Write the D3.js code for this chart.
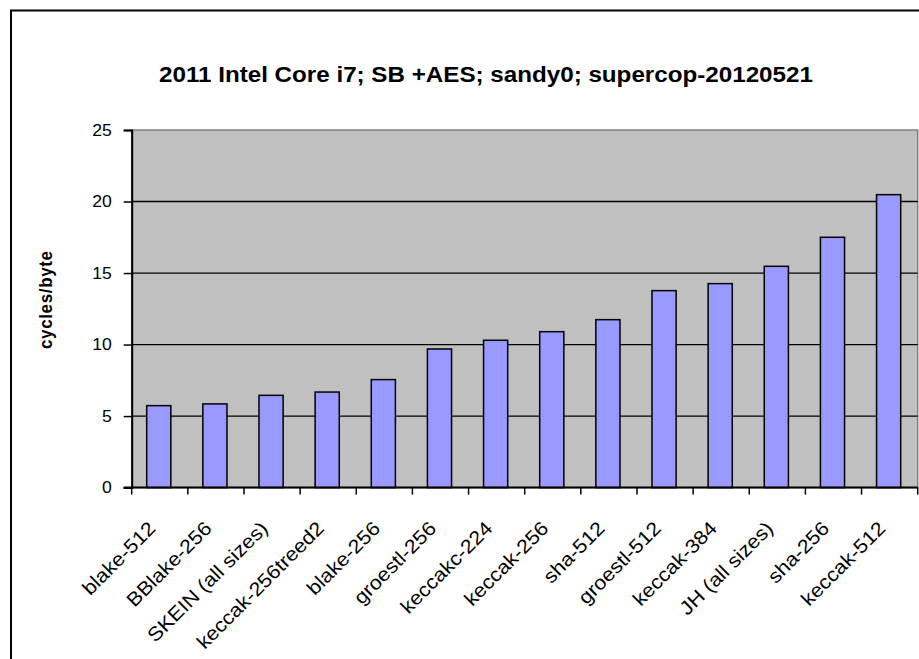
<!DOCTYPE html>
<html>
<head>
<meta charset="utf-8">
<script src="https://cdn.jsdelivr.net/npm/d3@7/dist/d3.min.js"></script>
<style>
  html, body { margin: 0; padding: 0; background: #ffffff; }
  svg { display: block; }
  text { font-family: "Liberation Sans", Arial, sans-serif; fill: #000; }
</style>
</head>
<body>
<svg id="chart" width="919" height="659"></svg>
<script>
// Hash function throughput on a 2011 Intel Core i7 (Sandy Bridge)
const titleText = "2011 Intel Core i7; SB +AES; sandy0; supercop-20120521";
const yLabel = "cycles/byte";
const categories = [
  "blake-512", "BBlake-256", "SKEIN (all sizes)", "keccak-256treed2",
  "blake-256", "groestl-256", "keccakc-224", "keccak-256", "sha-512",
  "groestl-512", "keccak-384", "JH (all sizes)", "sha-256", "keccak-512"
];
const values = [5.73, 5.85, 6.45, 6.68, 7.55, 9.69, 10.3, 10.9, 11.74, 13.77, 14.26, 15.47, 17.5, 20.48];
const yTicks = [0, 5, 10, 15, 20, 25];

// the chart's text is set slightly wide
const SX = 1.1;

const svg = d3.select("#chart");

// outer chart frame
svg.append("rect")
  .attr("x", 11).attr("y", 10.5)
  .attr("width", 1000).attr("height", 1000)
  .attr("fill", "none").attr("stroke", "#000").attr("stroke-width", 2);

const plot = { left: 131.7, right: 917.7, top: 130, bottom: 487.6 };

const x = d3.scaleBand().domain(categories).range([plot.left, plot.right]).padding(0);
const y = d3.scaleLinear().domain([0, 25]).range([plot.bottom, plot.top]);

// plot area background
svg.append("rect")
  .attr("x", plot.left).attr("y", plot.top)
  .attr("width", plot.right - plot.left).attr("height", plot.bottom - plot.top)
  .attr("fill", "#c0c0c0").attr("stroke", "#808080").attr("stroke-width", 1.5);

// horizontal gridlines
svg.append("g").selectAll("line")
  .data(yTicks.filter(t => t > 0 && t < 25))
  .join("line")
  .attr("x1", plot.left).attr("x2", plot.right)
  .attr("y1", d => y(d)).attr("y2", d => y(d))
  .attr("stroke", "#000").attr("stroke-width", 1.3);

// bars
const barW = x.bandwidth() * 0.43;
svg.append("g").selectAll("rect")
  .data(values)
  .join("rect")
  .attr("x", (d, i) => x(categories[i]) + x.bandwidth() / 2 - barW / 2 - 1)
  .attr("y", d => y(d))
  .attr("width", barW)
  .attr("height", d => y(0) - y(d))
  .attr("fill", "#9999ff")
  .attr("stroke", "#000").attr("stroke-width", 1.5);

// y axis
const yAxis = svg.append("g")
  .attr("transform", `translate(${plot.left},0)`)
  .call(d3.axisLeft(y).tickValues(yTicks).tickSize(8).tickPadding(0).tickFormat(d3.format("d")));
yAxis.select(".domain").attr("stroke", "#000").attr("stroke-width", 2);
yAxis.selectAll(".tick line").attr("stroke", "#000").attr("stroke-width", 1.5);
yAxis.selectAll(".tick text")
  .attr("x", null)
  .attr("transform", `translate(-20,0) scale(${SX},1)`)
  .style("font-family", "'Liberation Sans', Arial, sans-serif")
  .style("font-size", "16px").attr("fill", "#000");

// x axis baseline and boundary ticks
svg.append("line")
  .attr("x1", plot.left - 8).attr("x2", plot.right)
  .attr("y1", plot.bottom).attr("y2", plot.bottom)
  .attr("stroke", "#000").attr("stroke-width", 2);
const bounds = categories.map(c => x(c)).concat([plot.right]);
svg.append("g").selectAll("line")
  .data(bounds)
  .join("line")
  .attr("x1", d => d).attr("x2", d => d)
  .attr("y1", plot.bottom).attr("y2", plot.bottom + 7)
  .attr("stroke", "#000").attr("stroke-width", 1.5);

// category labels, rotated 45 degrees
svg.append("g").selectAll("text")
  .data(categories)
  .join("text")
  .attr("transform", d => `translate(${x(d) + x.bandwidth() / 2 - 3},${plot.bottom + 42}) rotate(-45) scale(${SX},1)`)
  .attr("text-anchor", "end")
  .style("font-size", "19.5px")
  .text(d => d);

// y axis title
svg.append("text")
  .attr("transform", `translate(51.5,300) scale(${SX},1) rotate(-90)`)
  .attr("text-anchor", "middle")
  .attr("textLength", 98).attr("lengthAdjust", "spacing")
  .style("font-size", "17px").style("font-weight", "bold")
  .text(yLabel);

// chart title
svg.append("text")
  .attr("transform", `translate(159,82) scale(${SX},1)`)
  .style("font-size", "22px").style("font-weight", "bold")
  .text(titleText);
</script>
</body>
</html>
